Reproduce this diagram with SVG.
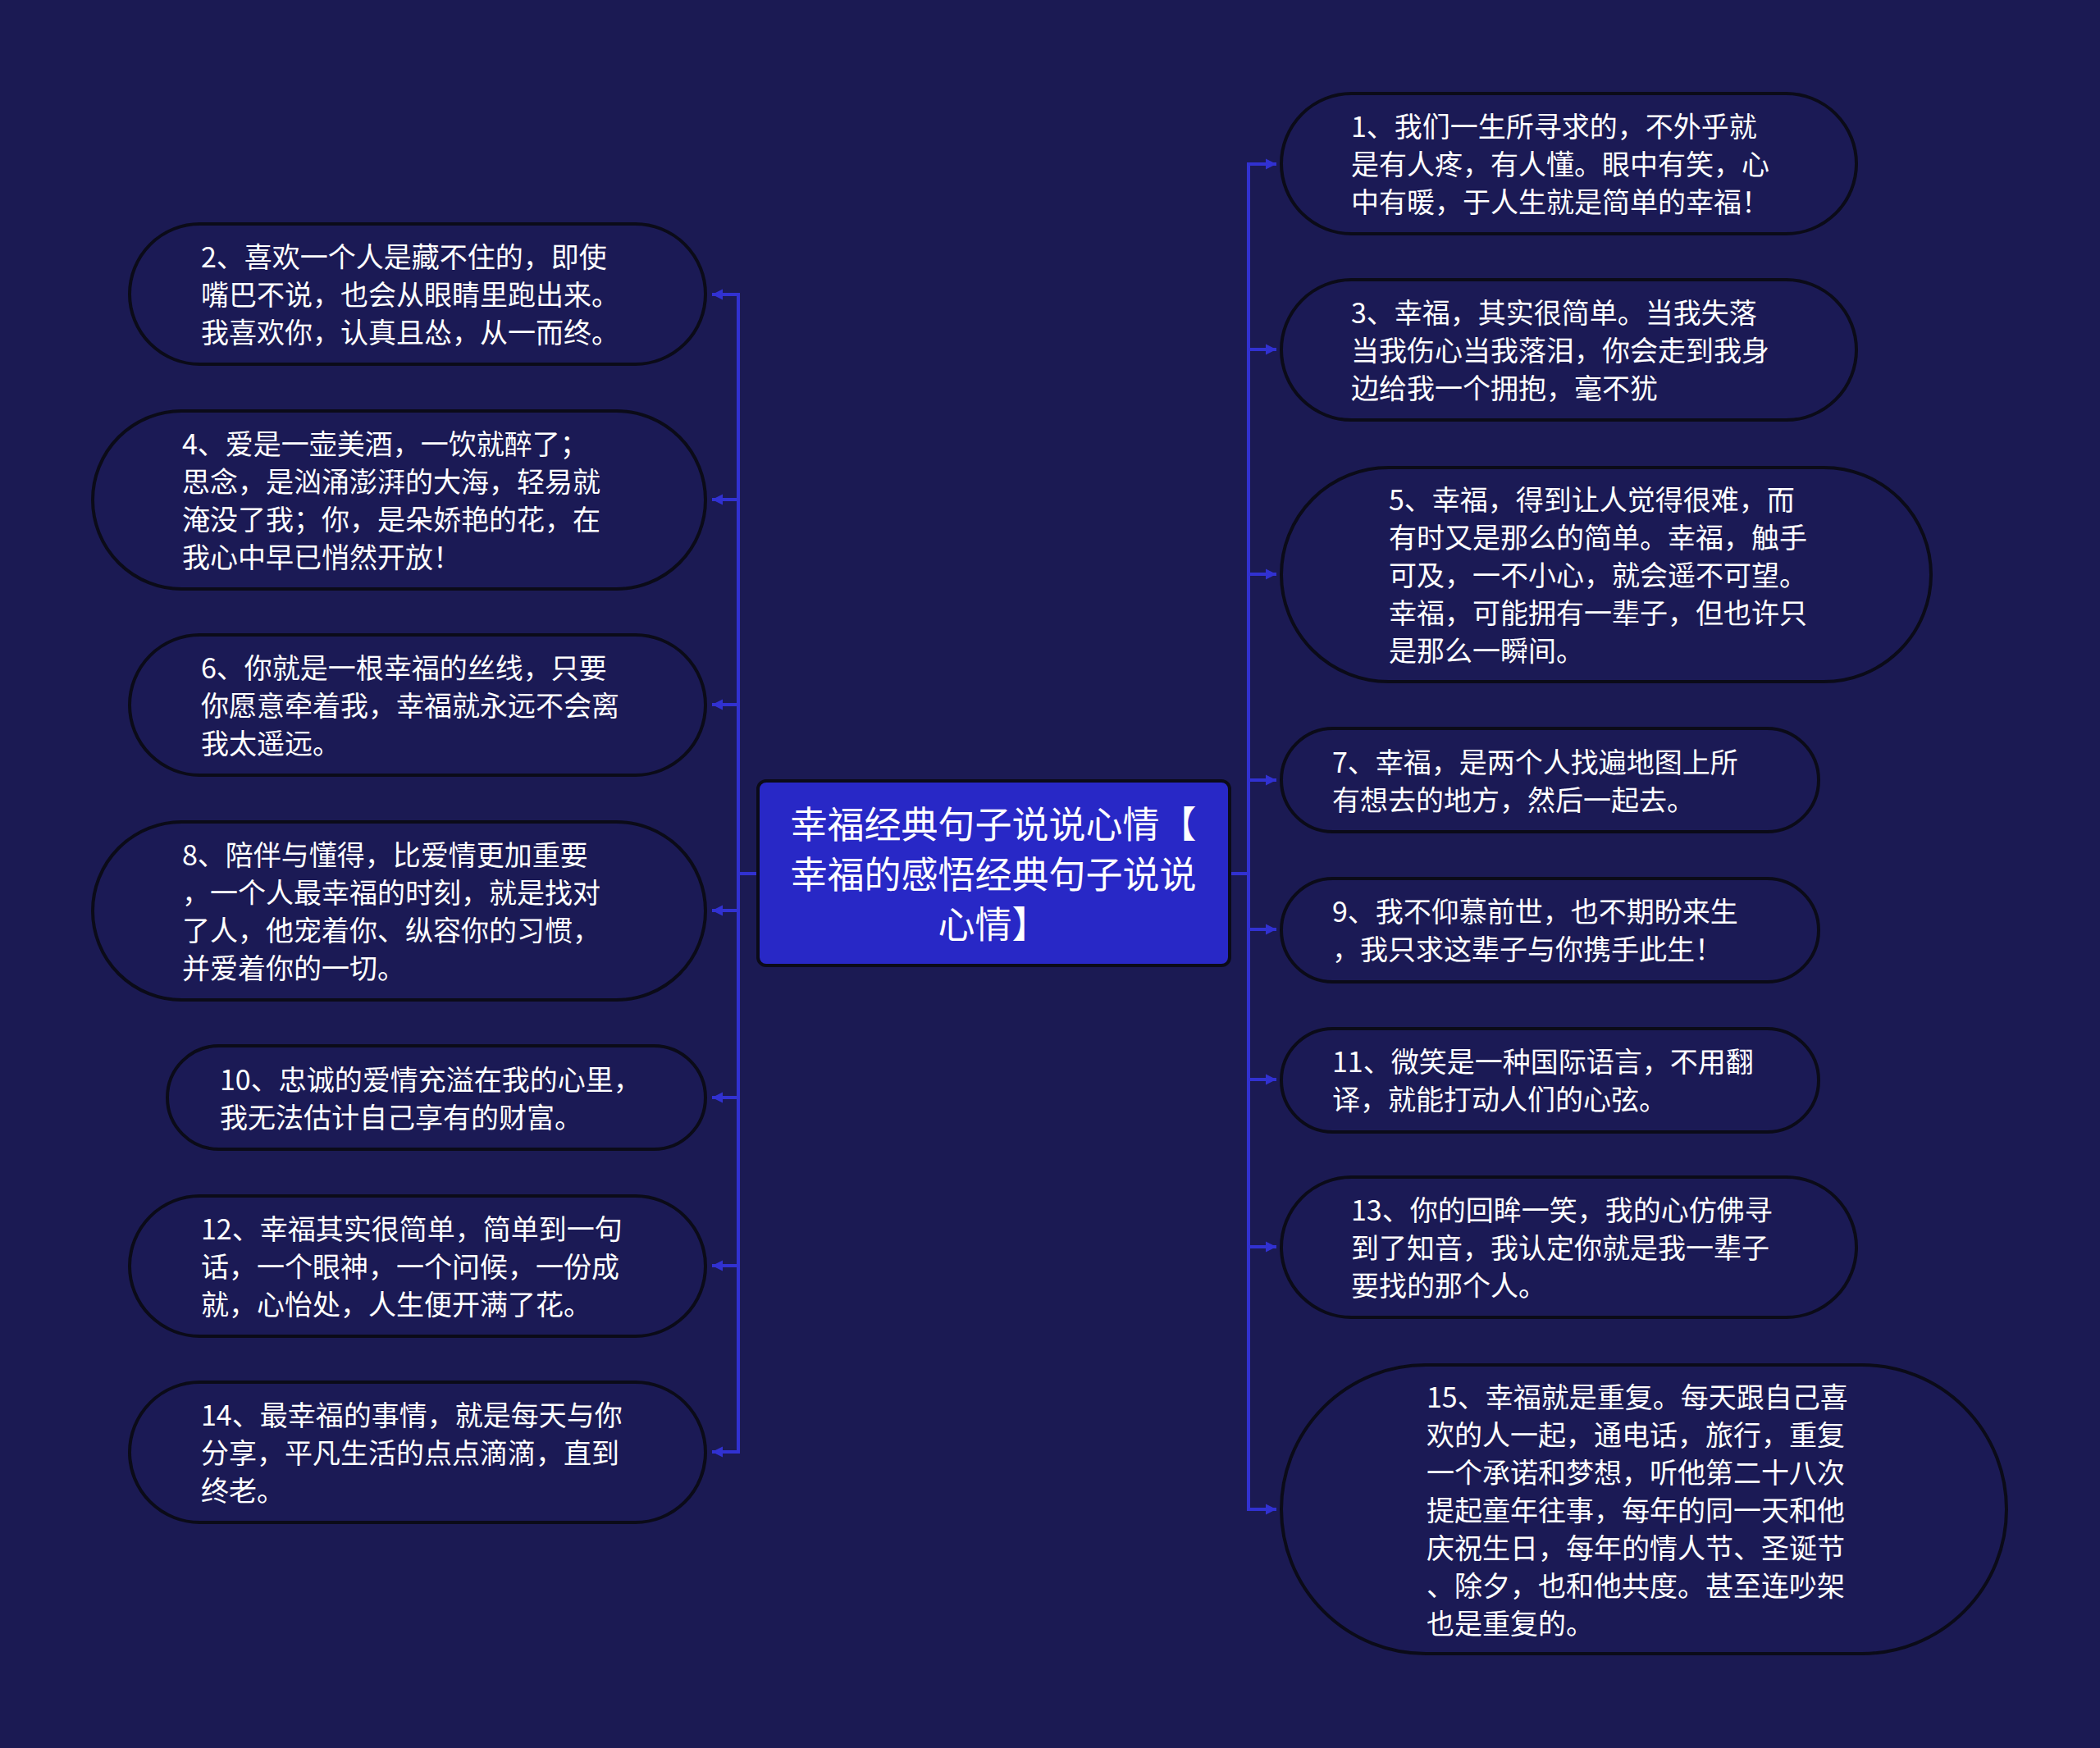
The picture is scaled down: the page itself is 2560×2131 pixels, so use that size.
<svg xmlns="http://www.w3.org/2000/svg" width="2560" height="2131" viewBox="0 0 2560 2131">
<style>
.bg{fill:#1b1a53}
.node rect{fill:#1b1a55;stroke:#0b0b18;stroke-width:4}
.node text{font-family:"Noto Sans CJK SC","Noto Sans",sans-serif;font-size:34px;fill:#ffffff;dominant-baseline:central}
#center rect{fill:#2828c6;stroke:#0b0b18;stroke-width:4}
#center text{font-family:"Noto Sans CJK SC","Noto Sans",sans-serif;font-size:45px;fill:#ffffff;dominant-baseline:central;text-anchor:middle}
.conn{fill:none;stroke:#3131d1;stroke-width:4}
</style>
<defs>
<marker id="ah" viewBox="0 0 10 10" refX="10" refY="5" markerWidth="13" markerHeight="14" markerUnits="userSpaceOnUse" orient="auto">
<path d="M0,0 L10,5 L0,10 z" fill="#3131d1"/>
</marker>
</defs>
<rect class="bg" x="0" y="0" width="2560" height="2131"/>
<g id="connectors">
<path class="conn" d="M924 1065 H900"/>
<path class="conn" d="M900 357 V1772"/>
<path class="conn" d="M902 359 H868" marker-end="url(#ah)"/>
<path class="conn" d="M902 609 H868" marker-end="url(#ah)"/>
<path class="conn" d="M902 859 H868" marker-end="url(#ah)"/>
<path class="conn" d="M902 1110 H868" marker-end="url(#ah)"/>
<path class="conn" d="M902 1338 H868" marker-end="url(#ah)"/>
<path class="conn" d="M902 1543 H868" marker-end="url(#ah)"/>
<path class="conn" d="M902 1770 H868" marker-end="url(#ah)"/>
<path class="conn" d="M1499 1065 H1522"/>
<path class="conn" d="M1522 198 V1842"/>
<path class="conn" d="M1520 200 H1556" marker-end="url(#ah)"/>
<path class="conn" d="M1520 426 H1556" marker-end="url(#ah)"/>
<path class="conn" d="M1520 700 H1556" marker-end="url(#ah)"/>
<path class="conn" d="M1520 951 H1556" marker-end="url(#ah)"/>
<path class="conn" d="M1520 1133 H1556" marker-end="url(#ah)"/>
<path class="conn" d="M1520 1316 H1556" marker-end="url(#ah)"/>
<path class="conn" d="M1520 1520 H1556" marker-end="url(#ah)"/>
<path class="conn" d="M1520 1840 H1556" marker-end="url(#ah)"/>
</g>
<g id="center">
<rect x="924" y="952" width="575" height="225" rx="10"/>
<text x="1211" y="1002">幸福经典句子说说心情【</text>
<text x="1211" y="1063">幸福的感悟经典句子说说</text>
<text x="1211" y="1124">心情】</text>
</g>
<g id="n2" class="node">
<rect x="158" y="273" width="702" height="171" rx="85.5"/>
<text x="245" y="311">2、喜欢一个人是藏不住的，即使</text>
<text x="245" y="357">嘴巴不说，也会从眼睛里跑出来。</text>
<text x="245" y="403">我喜欢你，认真且怂，从一而终。</text>
</g>
<g id="n4" class="node">
<rect x="113" y="501" width="747" height="217" rx="108.5"/>
<text x="222" y="539">4、爱是一壶美酒，一饮就醉了；</text>
<text x="222" y="585">思念，是汹涌澎湃的大海，轻易就</text>
<text x="222" y="631">淹没了我；你，是朵娇艳的花，在</text>
<text x="222" y="677">我心中早已悄然开放！</text>
</g>
<g id="n6" class="node">
<rect x="158" y="774" width="702" height="171" rx="85.5"/>
<text x="245" y="812">6、你就是一根幸福的丝线，只要</text>
<text x="245" y="858">你愿意牵着我，幸福就永远不会离</text>
<text x="245" y="904">我太遥远。</text>
</g>
<g id="n8" class="node">
<rect x="113" y="1002" width="747" height="217" rx="108.5"/>
<text x="222" y="1040">8、陪伴与懂得，比爱情更加重要</text>
<text x="222" y="1086">，一个人最幸福的时刻，就是找对</text>
<text x="222" y="1132">了人，他宠着你、纵容你的习惯，</text>
<text x="222" y="1178">并爱着你的一切。</text>
</g>
<g id="n10" class="node">
<rect x="204" y="1275" width="656" height="126" rx="63"/>
<text x="268" y="1314">10、忠诚的爱情充溢在我的心里，</text>
<text x="268" y="1360">我无法估计自己享有的财富。</text>
</g>
<g id="n12" class="node">
<rect x="158" y="1458" width="702" height="171" rx="85.5"/>
<text x="245" y="1496">12、幸福其实很简单，简单到一句</text>
<text x="245" y="1542">话，一个眼神，一个问候，一份成</text>
<text x="245" y="1588">就，心怡处，人生便开满了花。</text>
</g>
<g id="n14" class="node">
<rect x="158" y="1685" width="702" height="171" rx="85.5"/>
<text x="245" y="1723">14、最幸福的事情，就是每天与你</text>
<text x="245" y="1769">分享，平凡生活的点点滴滴，直到</text>
<text x="245" y="1815">终老。</text>
</g>
<g id="n1" class="node">
<rect x="1562" y="114" width="701" height="171" rx="85.5"/>
<text x="1647" y="152">1、我们一生所寻求的，不外乎就</text>
<text x="1647" y="198">是有人疼，有人懂。眼中有笑，心</text>
<text x="1647" y="244">中有暖，于人生就是简单的幸福！</text>
</g>
<g id="n3" class="node">
<rect x="1562" y="341" width="701" height="171" rx="85.5"/>
<text x="1647" y="379">3、幸福，其实很简单。当我失落</text>
<text x="1647" y="425">当我伤心当我落泪，你会走到我身</text>
<text x="1647" y="471">边给我一个拥抱，毫不犹</text>
</g>
<g id="n5" class="node">
<rect x="1562" y="570" width="792" height="261" rx="130.5"/>
<text x="1693" y="607">5、幸福，得到让人觉得很难，而</text>
<text x="1693" y="653">有时又是那么的简单。幸福，触手</text>
<text x="1693" y="699">可及，一不小心，就会遥不可望。</text>
<text x="1693" y="745">幸福，可能拥有一辈子，但也许只</text>
<text x="1693" y="791">是那么一瞬间。</text>
</g>
<g id="n7" class="node">
<rect x="1562" y="888" width="655" height="126" rx="63"/>
<text x="1624" y="927">7、幸福，是两个人找遍地图上所</text>
<text x="1624" y="973">有想去的地方，然后一起去。</text>
</g>
<g id="n9" class="node">
<rect x="1562" y="1071" width="655" height="126" rx="63"/>
<text x="1624" y="1109">9、我不仰慕前世，也不期盼来生</text>
<text x="1624" y="1155">，我只求这辈子与你携手此生！</text>
</g>
<g id="n11" class="node">
<rect x="1562" y="1254" width="655" height="126" rx="63"/>
<text x="1624" y="1292">11、微笑是一种国际语言，不用翻</text>
<text x="1624" y="1338">译，就能打动人们的心弦。</text>
</g>
<g id="n13" class="node">
<rect x="1562" y="1435" width="701" height="171" rx="85.5"/>
<text x="1647" y="1473">13、你的回眸一笑，我的心仿佛寻</text>
<text x="1647" y="1519">到了知音，我认定你就是我一辈子</text>
<text x="1647" y="1565">要找的那个人。</text>
</g>
<g id="n15" class="node">
<rect x="1562" y="1664" width="884" height="352" rx="176"/>
<text x="1739" y="1701">15、幸福就是重复。每天跟自己喜</text>
<text x="1739" y="1747">欢的人一起，通电话，旅行，重复</text>
<text x="1739" y="1793">一个承诺和梦想，听他第二十八次</text>
<text x="1739" y="1839">提起童年往事，每年的同一天和他</text>
<text x="1739" y="1885">庆祝生日，每年的情人节、圣诞节</text>
<text x="1739" y="1931">、除夕，也和他共度。甚至连吵架</text>
<text x="1739" y="1977">也是重复的。</text>
</g>
</svg>
